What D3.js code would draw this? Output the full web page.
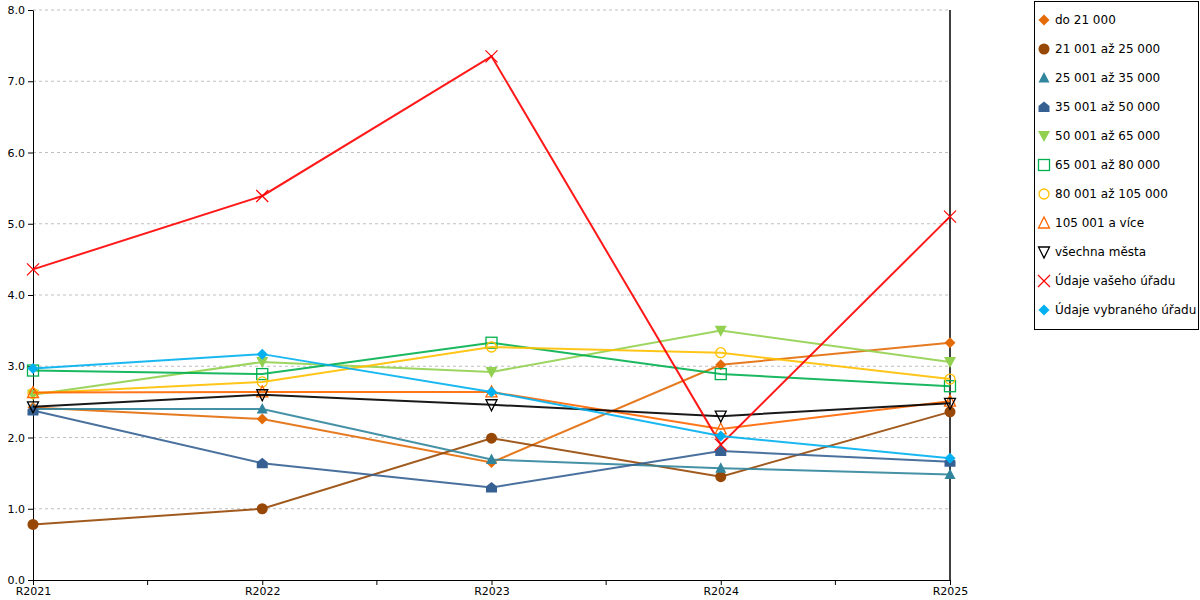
<!DOCTYPE html>
<html><head><meta charset="utf-8">
<script src="https://cdn.jsdelivr.net/npm/d3@7"></script>
<style>body{margin:0;background:#fff}text{font-family:"DejaVu Sans",Verdana,sans-serif}</style>
</head><body><svg id="c" width="1200" height="600"></svg>
<script>
const categories = ["R2021","R2022","R2023","R2024","R2025"];
const seriesNames = ["do 21 000","21 001 až 25 000","25 001 až 35 000","35 001 až 50 000","50 001 až 65 000","65 001 až 80 000","80 001 až 105 000","105 001 a více","všechna města","Údaje vašeho úřadu","Údaje vybraného úřadu"];
const s1 = [2.42, 2.26, 1.65, 3.02, 3.33];
const s2 = [0.78, 1.00, 1.99, 1.45, 2.36];
const s3 = [2.40, 2.40, 1.69, 1.57, 1.48];
const s4 = [2.38, 1.64, 1.30, 1.81, 1.66];
const s5 = [2.60, 3.06, 2.92, 3.50, 3.06];
const s6 = [2.94, 2.89, 3.33, 2.89, 2.72];
const s7 = [2.62, 2.78, 3.27, 3.19, 2.82];
const s8 = [2.63, 2.64, 2.64, 2.12, 2.51];
const s9 = [2.43, 2.60, 2.46, 2.30, 2.48];
const s10 = [4.36, 5.39, 7.35, 1.90, 5.10];
const s11 = [2.97, 3.17, 2.64, 2.02, 1.71];
const seriesValues = [s1,s2,s3,s4,s5,s6,s7,s8,s9,s10,s11];
const seriesColors = ["#E36C09","#974806","#31859C","#366092","#92D050","#00B050","#FFC000","#FF6600","#000000","#FF0000","#00B0F0"];
const seriesMarkers = ["diamond","circle","triangle","pentagon","triDown","square","circleOpen","triOpen","triDownOpen","cross","diamond"];
const yTicks = [0,1,2,3,4,5,6,7,8];

const svg = d3.select("#c");
const x = d3.scalePoint().domain(categories).range([33, 950]);
const y = d3.scaleLinear().domain([0, 8]).range([580, 10]);

// gridlines
svg.append("g").selectAll("line").data(yTicks.filter(d=>d>0)).join("line")
  .attr("x1", 33).attr("x2", 950).attr("y1", d=>y(d)).attr("y2", d=>y(d))
  .attr("stroke", "#bfbfbf").attr("stroke-dasharray", "3,3").attr("stroke-width", 1);

// y axis
const ya = svg.append("g").attr("transform","translate(33,0)")
  .call(d3.axisLeft(y).tickValues(yTicks).tickFormat(d3.format(".1f")).tickSize(5).tickSizeOuter(0));
ya.select(".domain").attr("stroke","#000");
ya.selectAll("text").attr("font-size", 11).attr("fill","#000").attr("font-family","DejaVu Sans, Verdana, sans-serif");

// x axis
const xa = svg.append("g").attr("transform","translate(0,580)")
  .call(d3.axisBottom(x).tickSize(5).tickSizeOuter(0));
xa.select(".domain").attr("stroke","#000");
xa.selectAll("text").attr("font-size", 11).attr("fill","#000").attr("y", 6).attr("dy","0.85em").attr("font-family","DejaVu Sans, Verdana, sans-serif");
// minor ticks between categories
const mids = categories.slice(0,-1).map((c,i)=> (x(c)+x(categories[i+1]))/2);
svg.append("g").selectAll("line").data(mids).join("line")
  .attr("x1", d=>d).attr("x2", d=>d).attr("y1", 580).attr("y2", 585).attr("stroke","#000");

// right vertical line
svg.append("line").attr("x1", x("R2025")).attr("x2", x("R2025")).attr("y1", 10).attr("y2", 580).attr("stroke","#000").attr("stroke-width",1.5);

function drawMarker(g, type, color, cx, cy){
  const s = 5.5;
  if(type==="diamond") g.append("path").attr("d",`M${cx},${cy-s}L${cx+s},${cy}L${cx},${cy+s}L${cx-s},${cy}Z`).attr("fill",color);
  else if(type==="circle") g.append("circle").attr("cx",cx).attr("cy",cy).attr("r",5.5).attr("fill",color);
  else if(type==="triangle") g.append("path").attr("d",`M${cx},${cy-6}L${cx+5.5},${cy+4.5}L${cx-5.5},${cy+4.5}Z`).attr("fill",color);
  else if(type==="pentagon") g.append("path").attr("d",`M${cx},${cy-5.5}L${cx+5.5},${cy-1}L${cx+5.5},${cy+5}L${cx-5.5},${cy+5}L${cx-5.5},${cy-1}Z`).attr("fill",color);
  else if(type==="triDown") g.append("path").attr("d",`M${cx-6},${cy-5}L${cx+6},${cy-5}L${cx},${cy+6}Z`).attr("fill",color);
  else if(type==="square") g.append("rect").attr("x",cx-5.5).attr("y",cy-5.5).attr("width",11).attr("height",11).attr("fill","none").attr("stroke",color).attr("stroke-width",1.3);
  else if(type==="circleOpen") g.append("circle").attr("cx",cx).attr("cy",cy).attr("r",5).attr("fill","none").attr("stroke",color).attr("stroke-width",1.3);
  else if(type==="triOpen") g.append("path").attr("d",`M${cx},${cy-6}L${cx+5.5},${cy+5}L${cx-5.5},${cy+5}Z`).attr("fill","none").attr("stroke",color).attr("stroke-width",1.3);
  else if(type==="triDownOpen") g.append("path").attr("d",`M${cx-5.5},${cy-5}L${cx+5.5},${cy-5}L${cx},${cy+6}Z`).attr("fill","none").attr("stroke",color).attr("stroke-width",1.3);
  else if(type==="cross") g.append("path").attr("d",`M${cx-6},${cy-6}L${cx+6},${cy+6}M${cx+6},${cy-6}L${cx-6},${cy+6}`).attr("stroke",color).attr("stroke-width",1.2);
}

const line = d3.line().x((d,i)=>x(categories[i])).y(d=>y(d));
const plot = svg.append("g");
seriesValues.forEach((vals, k) => {
  const g = plot.append("g");
  g.append("path").attr("d", line(vals)).attr("fill","none").attr("stroke", seriesColors[k]).attr("stroke-width", 2).attr("stroke-opacity",0.9);
  vals.forEach((v,i)=> drawMarker(g, seriesMarkers[k], seriesColors[k], x(categories[i]), y(v)));
});

// legend
const lg = svg.append("g");
lg.append("rect").attr("x",1034.5).attr("y",1.5).attr("width",164).attr("height",328).attr("fill","#fff").attr("stroke","#000").attr("stroke-width",1);
seriesNames.forEach((name,k)=>{
  const cy = 20 + k*29;
  drawMarker(lg, seriesMarkers[k], seriesColors[k], 1044, cy);
  lg.append("text").attr("x",1055).attr("y",cy).attr("dy","0.35em").attr("font-size",12).attr("fill","#000").text(name);
});
</script></body></html>
